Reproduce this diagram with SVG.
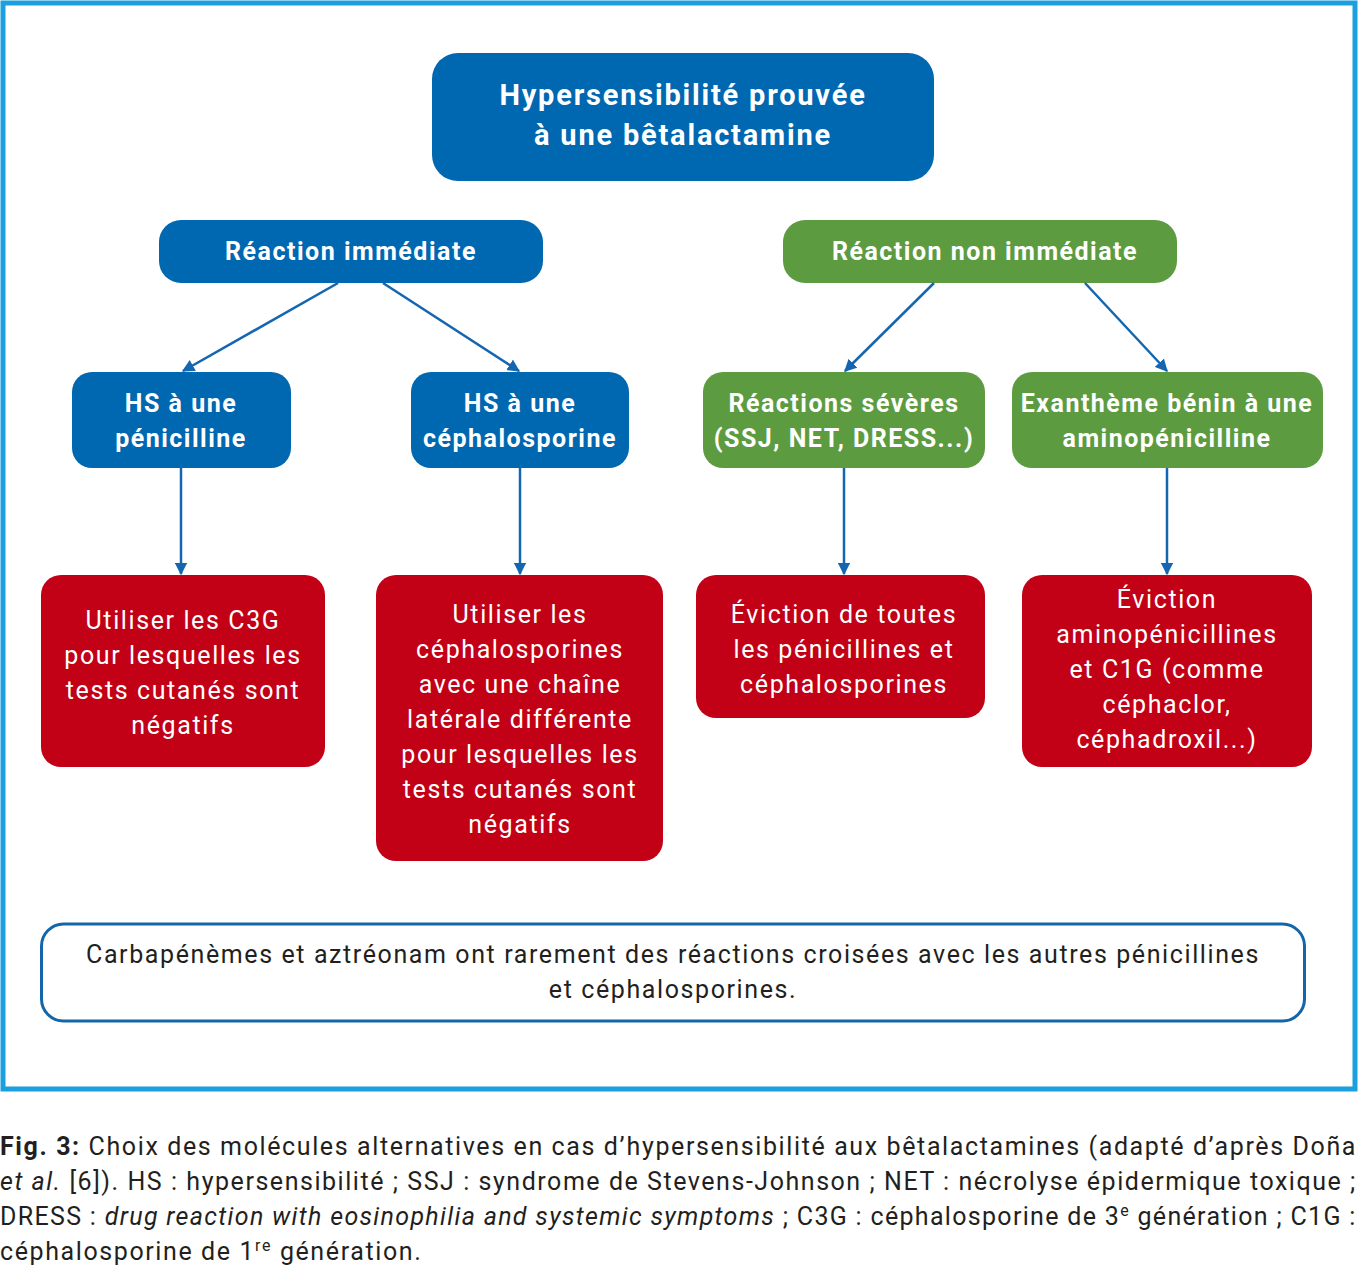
<svg xmlns="http://www.w3.org/2000/svg" width="1359" height="1266" viewBox="0 0 1359 1266">
<defs>
<marker id="ah" viewBox="0 0 10 10" refX="9" refY="5" markerWidth="5" markerHeight="5" orient="auto" markerUnits="strokeWidth">
<path d="M0,0 L10,5 L0,10 z" fill="#1566b0"/>
</marker>
<style>
.blue{fill:#0067b1}
.green{fill:#5d9b41}
.red{fill:#c20016}
.t{font-family:"Roboto","Liberation Sans",sans-serif;fill:#fff;text-anchor:middle;letter-spacing:1.6px}
.b{font-weight:bold;letter-spacing:1.5px}
.n{font-size:25px}
.c{font-family:"Roboto","Liberation Sans",sans-serif;fill:#231f20;font-size:25px;letter-spacing:1.6px}
.conn line{stroke:#1566b0;stroke-width:2.5;marker-end:url(#ah)}
</style>
</defs>
<rect width="1359" height="1266" fill="#fff"/>
<rect x="3" y="3" width="1352" height="1086" fill="none" stroke="#1a9fdf" stroke-width="5"/>

<g id="top">
<rect class="blue" x="432" y="53" width="502" height="128" rx="26"/>
<text class="t b" font-size="29" style="letter-spacing:1.8px" x="683" y="105">Hypersensibilité prouvée</text>
<text class="t b" font-size="29" style="letter-spacing:1.8px" x="683" y="145">à une bêtalactamine</text>
</g>
<g id="immediate">
<rect class="blue" x="159" y="220" width="384" height="63" rx="22"/>
<text class="t b n" x="351" y="260">Réaction immédiate</text>
</g>
<g id="nonimmediate">
<rect class="green" x="783" y="220" width="394" height="63" rx="22"/>
<text class="t b n" x="985" y="260">Réaction non immédiate</text>
</g>
<g id="hs-peni">
<rect class="blue" x="72" y="372" width="219" height="96" rx="20"/>
<text class="t b n" x="181" y="412">HS à une</text>
<text class="t b n" x="181" y="447">pénicilline</text>
</g>
<g id="hs-cepha">
<rect class="blue" x="411" y="372" width="218" height="96" rx="20"/>
<text class="t b n" x="520" y="412">HS à une</text>
<text class="t b n" x="520" y="447">céphalosporine</text>
</g>
<g id="severe">
<rect class="green" x="703" y="372" width="282" height="96" rx="20"/>
<text class="t b n" x="844" y="412">Réactions sévères</text>
<text class="t b n" x="844" y="447">(SSJ, NET, DRESS...)</text>
</g>
<g id="exantheme">
<rect class="green" x="1012" y="372" width="311" height="96" rx="20"/>
<text class="t b n" x="1167" y="412">Exanthème bénin à une</text>
<text class="t b n" x="1167" y="447">aminopénicilline</text>
</g>
<g id="r1">
<rect class="red" x="41" y="575" width="284" height="192" rx="20"/>
<text class="t n" x="183" y="629">Utiliser les C3G</text>
<text class="t n" x="183" y="664">pour lesquelles les</text>
<text class="t n" x="183" y="699">tests cutanés sont</text>
<text class="t n" x="183" y="734">négatifs</text>
</g>
<g id="r2">
<rect class="red" x="376" y="575" width="287" height="286" rx="20"/>
<text class="t n" x="520" y="623">Utiliser les</text>
<text class="t n" x="520" y="658">céphalosporines</text>
<text class="t n" x="520" y="693">avec une chaîne</text>
<text class="t n" x="520" y="728">latérale différente</text>
<text class="t n" x="520" y="763">pour lesquelles les</text>
<text class="t n" x="520" y="798">tests cutanés sont</text>
<text class="t n" x="520" y="833">négatifs</text>
</g>
<g id="r3">
<rect class="red" x="696" y="575" width="289" height="143" rx="20"/>
<text class="t n" x="844" y="623">Éviction de toutes</text>
<text class="t n" x="844" y="658">les pénicillines et</text>
<text class="t n" x="844" y="693">céphalosporines</text>
</g>
<g id="r4">
<rect class="red" x="1022" y="575" width="290" height="192" rx="20"/>
<text class="t n" x="1167" y="608">Éviction</text>
<text class="t n" x="1167" y="643">aminopénicillines</text>
<text class="t n" x="1167" y="678">et C1G (comme</text>
<text class="t n" x="1167" y="713">céphaclor,</text>
<text class="t n" x="1167" y="748">céphadroxil...)</text>
</g>
<g id="note">
<rect x="41.5" y="924" width="1263" height="97" rx="22" fill="#fff" stroke="#1566a8" stroke-width="3"/>
<text class="t n" style="fill:#231f20" x="673" y="963">Carbapénèmes et aztréonam ont rarement des réactions croisées avec les autres pénicillines</text>
<text class="t n" style="fill:#231f20" x="673" y="998">et céphalosporines.</text>
</g>

<g class="conn" id="connectors">
<line x1="338" y1="283" x2="183" y2="371"/>
<line x1="383" y1="283" x2="519" y2="371"/>
<line x1="934" y1="283" x2="845" y2="371"/>
<line x1="1085" y1="283" x2="1167" y2="371"/>
<line x1="181" y1="468" x2="181" y2="574"/>
<line x1="520" y1="468" x2="520" y2="574"/>
<line x1="844" y1="468" x2="844" y2="574"/>
<line x1="1167" y1="468" x2="1167" y2="574"/>
</g>

<g id="caption">
<text class="c" x="0" y="1155" textLength="1357" lengthAdjust="spacing"><tspan font-weight="bold">Fig. 3:</tspan> Choix des molécules alternatives en cas d’hypersensibilité aux bêtalactamines (adapté d’après Doña</text>
<text class="c" x="0" y="1190" textLength="1357" lengthAdjust="spacing"><tspan font-style="italic">et al.</tspan> [6]). HS : hypersensibilité ; SSJ : syndrome de Stevens-Johnson ; NET : nécrolyse épidermique toxique ;</text>
<text class="c" x="0" y="1225" textLength="1357" lengthAdjust="spacing">DRESS : <tspan font-style="italic">drug reaction with eosinophilia and systemic symptoms</tspan> ; C3G : céphalosporine de 3<tspan font-size="16" dy="-9">e</tspan><tspan dy="9"> génération ; C1G :</tspan></text>
<text class="c" x="0" y="1260">céphalosporine de 1<tspan font-size="16" dy="-9">re</tspan><tspan dy="9"> génération.</tspan></text>
</g>
</svg>
